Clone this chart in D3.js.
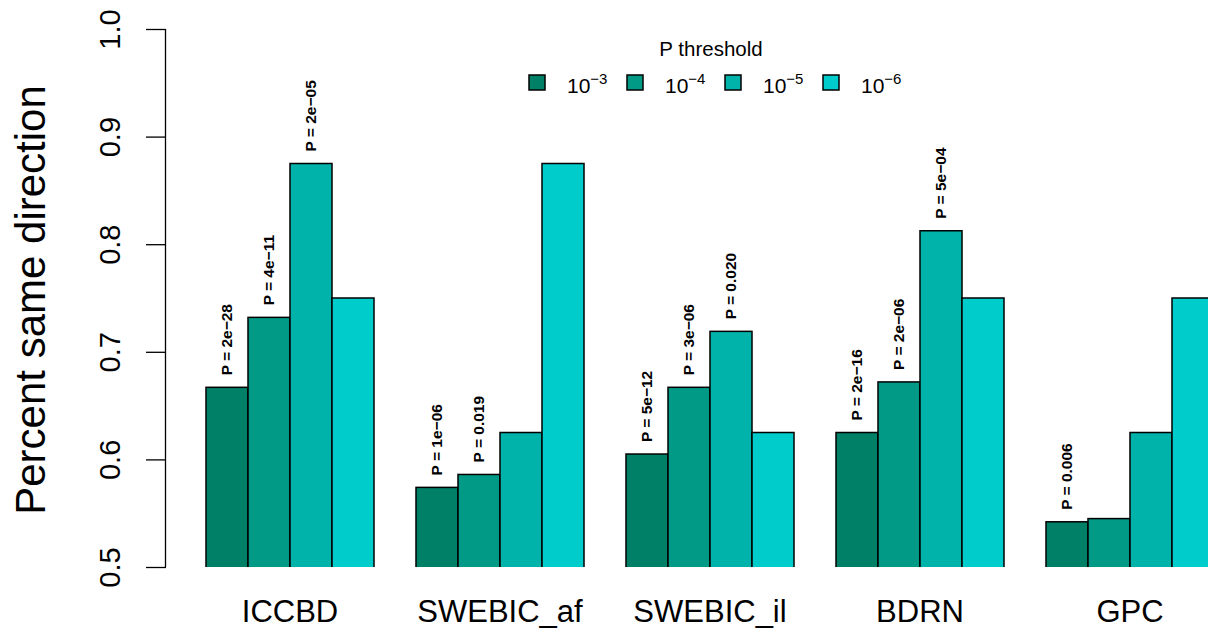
<!DOCTYPE html>
<html>
<head>
<meta charset="utf-8">
<script src="https://cdn.jsdelivr.net/npm/d3@7"></script>
<style>
body{margin:0;background:#fff;}
svg{display:block;font-family:"Liberation Sans",Arial,Helvetica,sans-serif;}
</style>
</head>
<body>
<div id="chart"></div>
<script>
var cohorts=["ICCBD","SWEBIC_af","SWEBIC_il","BDRN","GPC"];
var thresholds=["-3","-4","-5","-6"];
var colors=["#008066","#009A86","#00B3AA","#00CCCC"];
// percent same direction, per cohort, one value per threshold
var pct_e3=[0.667,0.574,0.605,0.625,0.542];
var pct_e4=[0.732,0.586,0.667,0.672,0.545];
var pct_e5=[0.875,0.625,0.719,0.8125,0.625];
var pct_e6=[0.750,0.875,0.625,0.750,0.750];
// p value labels ("" = none)
var p_e3=["2e\u221228","1e\u221206","5e\u221212","2e\u221216","0.006"];
var p_e4=["4e\u221211","0.019","3e\u221206","2e\u221206",""];
var p_e5=["2e\u221205","","0.020","5e\u221204",""];
var p_e6=["","","","",""];
var yticks=[0.5,0.6,0.7,0.8,0.9,1.0];

var width=1208,height=630;
var svg=d3.select("#chart").append("svg").attr("width",width).attr("height",height);

var pcts=[pct_e3,pct_e4,pct_e5,pct_e6];
var plabs=[p_e3,p_e4,p_e5,p_e6];
var data=[];
cohorts.forEach(function(c,i){
	thresholds.forEach(function(t,j){
		data.push({cohort:c,thr:t,k:j,v:pcts[j][i],p:plabs[j][i]});
	});
});

var x0=d3.scaleBand().domain(cohorts).range([185,1235]).paddingInner(0.2).paddingOuter(0.1);
var x1=d3.scaleBand().domain(thresholds).range([0,x0.bandwidth()]);
var y=d3.scaleLinear().domain([0.5,1]).range([567,29]);

svg.append("defs").append("clipPath").attr("id","plotclip")
	.append("rect").attr("x",0).attr("y",0).attr("width",width).attr("height",y(0.5));

var bars=svg.append("g").attr("clip-path","url(#plotclip)");
bars.selectAll("rect").data(data).enter().append("rect")
	.attr("x",function(d){return x0(d.cohort)+x1(d.thr);})
	.attr("y",function(d){return y(d.v);})
	.attr("width",x1.bandwidth())
	.attr("height",function(d){return y(0.5)-y(d.v)+10;})
	.attr("fill",function(d){return colors[d.k];})
	.attr("stroke","#000").attr("stroke-width",1.5);

// p labels
svg.append("g").selectAll("text").data(data.filter(function(d){return d.p!="";})).enter().append("text")
	.attr("transform",function(d){
		var cx=x0(d.cohort)+x1(d.thr)+x1.bandwidth()/2;
		return "translate("+cx+","+(y(d.v)-12)+") rotate(-90)";
	})
	.attr("dy","0.35em")
	.attr("font-size",15.5).attr("font-weight","bold")
	.text(function(d){return "P = "+d.p;});

// y axis
var yaxis=svg.append("g").attr("transform","translate(166,0)")
	.call(d3.axisLeft(y).tickValues(yticks).tickSize(20).tickFormat(d3.format(".1f")));
yaxis.select(".domain").attr("d","M-0.5,"+y(0.5)+"V"+y(1));
yaxis.selectAll("line").attr("stroke-width",1.3);
yaxis.select(".domain").attr("stroke-width",1.3);
yaxis.selectAll("text")
	.attr("font-size",29).attr("font-family","Liberation Sans,Arial,sans-serif")
	.attr("text-anchor","middle").attr("x",0)
	.attr("transform","translate(-56,0) rotate(-90)")
	.attr("dy","0.35em");

svg.append("text")
	.attr("transform","translate(45,300) rotate(-90)")
	.attr("text-anchor","middle")
	.attr("font-size",42)
	.text("Percent same direction");

// x labels
svg.append("g").selectAll("text").data(cohorts).enter().append("text")
	.attr("x",function(d){return x0(d)+x0.bandwidth()/2;})
	.attr("y",622)
	.attr("text-anchor","middle")
	.attr("font-size",31)
	.text(function(d){return d;});

// legend
var leg=svg.append("g");
leg.append("text").attr("x",711).attr("y",56).attr("text-anchor","middle").attr("font-size",20.5).text("P threshold");
var items=leg.selectAll("g").data(thresholds).enter().append("g")
	.attr("transform",function(d,i){return "translate("+(529+i*98)+",75)";});
items.append("rect").attr("width",16).attr("height",15)
	.attr("fill",function(d,i){return colors[i];})
	.attr("stroke","#000").attr("stroke-width",1.5);
var lt=items.append("text").attr("x",38).attr("y",18).attr("font-size",21);
lt.append("tspan").text("10");
lt.append("tspan").attr("dy",-9).attr("font-size",15).text(function(d){return d.replace("-","\u2212");});
</script>
</body>
</html>
